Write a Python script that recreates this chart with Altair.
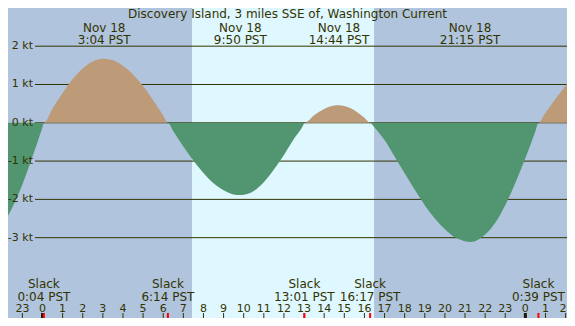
import altair as alt
import pandas as pd

# ---------------- data ----------------
title_text = "Discovery Island, 3 miles SSE of, Washington Current"

# hours since Nov 18 00:00 PST, current speed in knots (flood +, ebb -)
curve_hours = [-2.5, -2.0, -1.5, -1.0, -0.5, 0.0, 0.067,
               0.5, 1.0, 1.5, 2.0, 2.5, 3.0, 3.067, 3.5, 4.0, 4.5, 5.0, 5.5, 6.0, 6.233,
               6.5, 7.0, 7.5, 8.0, 8.5, 9.0, 9.5, 9.833, 10.0, 10.5, 11.0, 11.5, 12.0, 12.5, 13.0, 13.017,
               13.5, 14.0, 14.5, 14.733, 15.0, 15.5, 16.0, 16.283,
               16.5, 17.0, 17.5, 18.0, 18.5, 19.0, 19.5, 20.0, 20.5, 21.0, 21.25, 21.5, 22.0, 22.5,
               23.0, 23.5, 24.0, 24.5, 24.65,
               25.0, 25.5, 26.0, 26.5, 27.0]
curve_knots = [-2.93, -2.67, -2.21, -1.61, -0.89, -0.11, 0.0,
               0.38, 0.78, 1.14, 1.42, 1.60, 1.67, 1.67, 1.63, 1.49, 1.26, 0.96, 0.59, 0.19, 0.0,
               -0.22, -0.62, -0.99, -1.31, -1.58, -1.76, -1.87, -1.885, -1.88, -1.78, -1.55, -1.22, -0.84, -0.42, -0.02, 0.0,
               0.20, 0.36, 0.45, 0.46, 0.44, 0.33, 0.13, 0.0,
               -0.12, -0.45, -0.88, -1.32, -1.75, -2.15, -2.50, -2.78, -2.99, -3.09, -3.11, -3.09, -2.92, -2.61,
               -2.15, -1.57, -0.92, -0.22, 0.0,
               0.26, 0.63, 0.97, 1.30, 1.55]

peak_hours = [3.067, 9.833, 14.733, 21.25]
peak_dates = ["Nov 18", "Nov 18", "Nov 18", "Nov 18"]
peak_times = ["3:04 PST", "9:50 PST", "14:44 PST", "21:15 PST"]

slack_hours = [0.067, 6.233, 13.017, 16.283, 24.65]
slack_times = ["0:04 PST", "6:14 PST", "13:01 PST", "16:17 PST", "0:39 PST"]

tick_hours = list(range(-1, 27))
tick_labels = ["23", "0", "1", "2", "3", "4", "5", "6", "7", "8", "9", "10", "11", "12",
               "13", "14", "15", "16", "17", "18", "19", "20", "21", "22", "23", "0", "1", "2"]
midnight_hours = [0, 24]

kt_levels = [2, 1, 0, -1, -2, -3]
kt_labels = ["2 kt", "1 kt", "0 kt", "-1 kt", "-2 kt", "-3 kt"]

daylight_start = [7.43]
daylight_end = [16.48]

# ---------------- styling ----------------
BG = "#b0c4de"
DAY = "#dff7ff"
FLOOD = "#bd9b79"
EBB = "#529671"
INK = "#333300"
FONT = "DejaVu Sans"
W, H = 559, 310

xs = alt.Scale(domain=[-1.715, 26.069], nice=False, zero=False)
ys = alt.Scale(domain=[-5.097, 2.997], nice=False, zero=False)

curve = pd.DataFrame({"h": curve_hours, "v": curve_knots})
peaks = pd.DataFrame({"h": peak_hours, "d": peak_dates, "t": peak_times})
slacks = pd.DataFrame({"h": slack_hours, "t": slack_times})
ticks = pd.DataFrame({"h": tick_hours, "lab": tick_labels})
mids = pd.DataFrame({"h": midnight_hours})
kts = pd.DataFrame({"v": kt_levels, "lab": kt_labels})
day = pd.DataFrame({"a": daylight_start, "b": daylight_end})

X = lambda f: alt.X(f, type="quantitative", scale=xs, axis=None)
Y = lambda f: alt.Y(f, type="quantitative", scale=ys, axis=None)

day_rect = alt.Chart(day).mark_rect(color=DAY).encode(
    x=X("a"), x2="b", y=alt.value(0), y2=alt.value(H))

grid = alt.Chart(kts).mark_rule(color=INK, strokeWidth=1).encode(
    y=Y("v"), x=alt.value(27), x2=alt.value(W))

kt_text = alt.Chart(kts).mark_text(align="right", baseline="middle", font=FONT,
                                   fontSize=11, color=INK).encode(
    y=Y("v"), x=alt.value(25), text="lab:N")

flood = alt.Chart(curve).transform_calculate(
    p="max(datum.v, 0)", z="0").mark_area(color=FLOOD, interpolate="monotone", clip=True).encode(
    x=X("h"), y=Y("p:Q"), y2="z:Q")

ebb = alt.Chart(curve).transform_calculate(
    n="min(datum.v, 0)", z="0").mark_area(color=EBB, interpolate="monotone", clip=True).encode(
    x=X("h"), y=Y("n:Q"), y2="z:Q")

title = alt.Chart(pd.DataFrame({"t": [title_text]})).mark_text(
    align="center", baseline="alphabetic", font=FONT, fontSize=12, color=INK).encode(
    x=alt.value(279.5), y=alt.value(9.5), text="t:N")

peak_date = alt.Chart(peaks).mark_text(align="center", baseline="alphabetic", font=FONT,
                                       fontSize=12, color=INK, clip=True).encode(
    x=X("h"), y=alt.value(23.5), text="d:N")
peak_time = alt.Chart(peaks).mark_text(align="center", baseline="alphabetic", font=FONT,
                                       fontSize=12, color=INK, clip=True).encode(
    x=X("h"), y=alt.value(36), text="t:N")

slack_word = alt.Chart(slacks).mark_text(align="center", baseline="alphabetic", font=FONT,
                                         fontSize=12, color=INK, clip=True).encode(
    x=X("h"), y=alt.value(280), text=alt.value("Slack"))
slack_time = alt.Chart(slacks).mark_text(align="center", baseline="alphabetic", font=FONT,
                                         fontSize=12, color=INK, clip=True).encode(
    x=X("h"), y=alt.value(292.5), text="t:N")

inner_ticks = ticks.iloc[:-1]
last_tick = ticks.iloc[-1:]
hour_text = alt.Chart(inner_ticks).mark_text(align="center", baseline="alphabetic", font=FONT,
                                             fontSize=11, color=INK, clip=True).encode(
    x=X("h"), y=alt.value(304), text="lab:N")
hour_text_last = alt.Chart(last_tick).mark_text(align="right", baseline="alphabetic", font=FONT,
                                                fontSize=11, color=INK).encode(
    x=alt.value(W - 0.5), y=alt.value(304), text="lab:N")
hour_tick = alt.Chart(ticks).mark_rule(color=INK, strokeWidth=1, clip=True).encode(
    x=X("h"), y=alt.value(305), y2=alt.value(H))
mid_tick = alt.Chart(mids).mark_rule(color="#1a1a00", strokeWidth=3, clip=True).encode(
    x=X("h"), y=alt.value(305), y2=alt.value(H))
slack_tick = alt.Chart(slacks).mark_rule(color="#ff0000", strokeWidth=2, clip=True).encode(
    x=X("h"), y=alt.value(305), y2=alt.value(H))

chart = alt.layer(
    day_rect, grid, flood, ebb, kt_text, title, peak_date, peak_time,
    slack_word, slack_time, hour_text, hour_text_last, hour_tick, mid_tick, slack_tick
).properties(
    width=W, height=H, padding=0, autosize=alt.AutoSizeParams(type="none"),
    background=BG
).configure_view(stroke=None)

chart.save("out.html", embed_options={"renderer": "svg", "actions": False})
